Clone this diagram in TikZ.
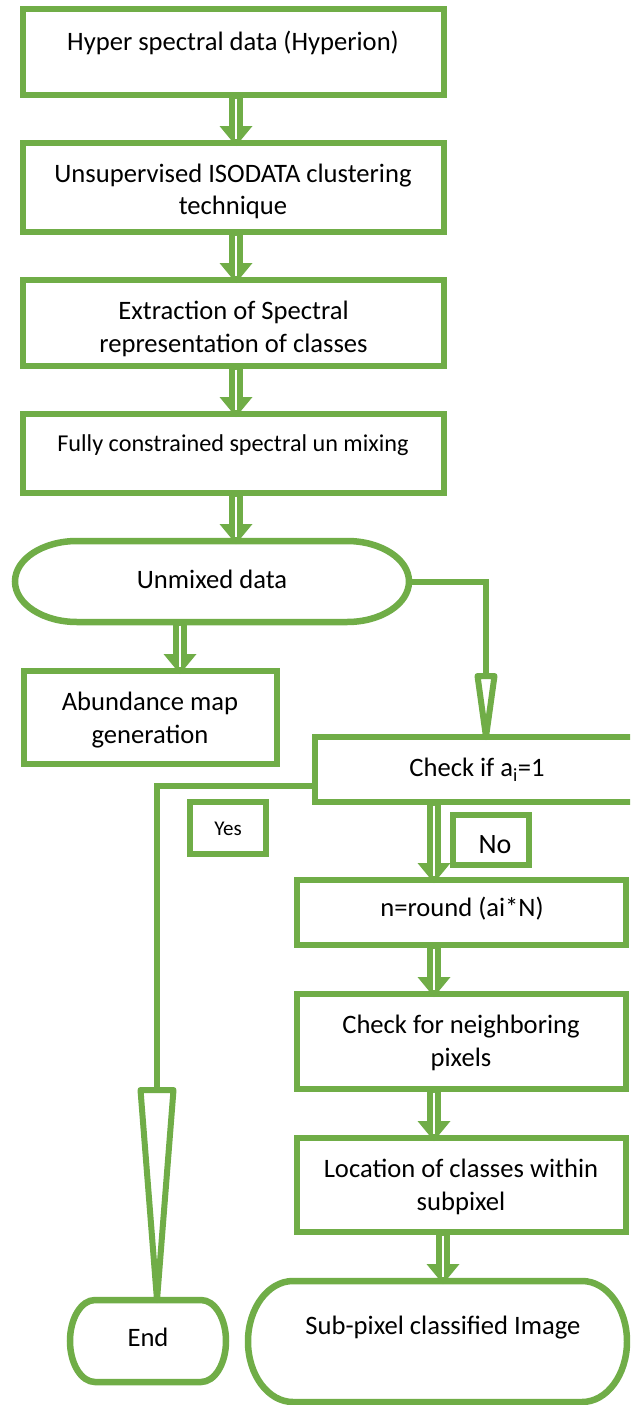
\documentclass[tikz,border=0pt]{standalone}
\usepackage{fontspec}
\setmainfont{Carlito}
\usetikzlibrary{calc}
\definecolor{fgreen}{HTML}{70AD47}

\tikzset{
  ln/.style={draw=fgreen, line width=6pt},
  box/.style={draw=fgreen, line width=6.5pt, rectangle, inner sep=0pt, outer sep=0pt},
  txt/.style={font=\fontsize{26.6}{32.5}\selectfont, align=center, inner sep=0pt, text=black},
  one/.style={text height=18.5pt, text depth=5pt},
  dblbody/.style={fgreen, line width=14pt},
}

% flowchart terminator: name, centre x, centre y, width, height, end radius (px)
\newcommand{\terminator}[6]{%
  \node[inner sep=0pt, outer sep=0pt, minimum width=#4pt, minimum height=#5pt] (#1) at (#2,#3) {};
  \draw[draw=fgreen, line width=6.5pt]
    ([xshift=#6pt]#1.north west) -- ([xshift=-#6pt]#1.north east)
    arc[start angle=90, end angle=-90, x radius=#6pt, y radius=#5pt/2]
    -- ([xshift=#6pt]#1.south west)
    arc[start angle=270, end angle=90, x radius=#6pt, y radius=#5pt/2] -- cycle;
}

% double-line block arrow: start point, target point on the next shape
\newcommand{\dblarrow}[2]{%
  \draw[dblbody] (#1) -- ($(#2)+(0,-16)$);
  \fill[fgreen] ($(#2)+(-16.5,-17)$) -- ($(#2)+(16.5,-17)$) -- ($(#2)+(0,3)$) -- cycle;
  \draw[white, line width=2.2pt] ($(#1)+(0,3.5)$) -- ($(#2)+(0,-4)$);
}

\begin{document}
\begin{tikzpicture}[x=1pt,y=-1pt]
\useasboundingbox (0,0) rectangle (630,1405);
\clip (0,0) rectangle (630,1405);
\fill[white] (0,0) rectangle (630,1405);

% main column
\node[box, minimum width=421pt, minimum height=86pt] (b1) at (233.5,52) {};
\node[box, minimum width=421pt, minimum height=89pt] (b2) at (233.5,187.5) {};
\node[box, minimum width=421pt, minimum height=86pt] (b3) at (233.5,323) {};
\node[box, minimum width=421pt, minimum height=79pt] (b4) at (233.5,453.5) {};
\terminator{unmixed}{212}{581.5}{394}{81}{62}
\node[box, minimum width=253pt, minimum height=93pt] (abund) at (150.5,717.5) {};

% decision branch
\node[box, minimum width=325pt, minimum height=65pt] (check) at (477.5,769.5) {};
\node[box, line width=6pt, minimum width=76pt, minimum height=52pt] (yes) at (228,828) {};
\node[box, line width=5.5pt, minimum width=76pt, minimum height=50pt] (no) at (491,840) {};
\node[box, minimum width=329pt, minimum height=65pt] (nround) at (461.5,912.5) {};
\node[box, minimum width=329pt, minimum height=95pt] (neigh) at (461.5,1041.5) {};
\node[box, minimum width=329pt, minimum height=94pt] (locat) at (461.5,1185) {};
\terminator{subpix}{437.5}{1341.5}{379}{121}{45}
\terminator{endnode}{148}{1341}{156}{82}{25}

% labels
\node[txt, one] (t1) at (233,44) {Hyper spectral data (Hyperion)};
\node[txt] (t2) at (233,191.5) {Unsupervised ISODATA clustering\\technique};
\node[txt] (t3) at (233.5,329) {Extraction of Spectral\\representation of classes};
\node[txt, font=\fontsize{24.2}{29}\selectfont, text height=16.7pt, text depth=4.5pt] (t4) at (233,445) {Fully constrained spectral un mixing};
\node[txt, one] (t5) at (212,582) {Unmixed data};
\node[txt] (t6) at (150,720) {Abundance map\\generation};
\node[txt, one] (t7) at (477,770) {Check if a\textsubscript{i}=1};
\node[txt, font=\fontsize{21}{25}\selectfont, text height=14.5pt, text depth=4pt] (t8) at (228,830) {Yes};
\node[txt, font=\fontsize{28}{34}\selectfont, text height=19.5pt, text depth=5.5pt] (t9) at (495,846) {No};
\node[txt, one] (t10) at (462,910) {n=round (ai*N)};
\node[txt] (t11) at (461,1043) {Check for neighboring\\pixels};
\node[txt] (t12) at (461,1187) {Location of classes within\\subpixel};
\node[txt, one] (t13) at (443,1328) {Sub-pixel classified Image};
\node[txt, one] (t14) at (148,1339.5) {End};

% arrow columns
\coordinate (colL) at (236,0);
\coordinate (colU) at (180,0);
\coordinate (colR) at (434,0);
\coordinate (colS) at (443,0);

\dblarrow{colL |- b1.south}{colL |- b2.north}
\dblarrow{colL |- b2.south}{colL |- b3.north}
\dblarrow{colL |- b3.south}{colL |- b4.north}
\dblarrow{colL |- b4.south}{colL |- unmixed.north}
\dblarrow{colU |- unmixed.south}{colU |- abund.north}
\dblarrow{colR |- check.south}{colR |- nround.north}
\dblarrow{colR |- nround.south}{colR |- neigh.north}
\dblarrow{colR |- neigh.south}{colR |- locat.north}
\dblarrow{colS |- locat.south}{colS |- subpix.north}

% hollow-headed connectors
\coordinate (ubend) at (486,676);
\draw[ln] (unmixed.east) -| (ubend);
\draw[ln, line join=round, fill=white] ($(ubend)+(-8.5,0)$) -- ($(ubend)+(8.5,0)$) -- (ubend |- check.north) -- cycle;

\coordinate (ybend) at (157,1090);
\draw[ln] ($(check.west)+(0,16.5)$) -| (ybend);
\draw[ln, line join=round, fill=white] ($(ybend)+(-16.5,0)$) -- ($(ybend)+(16.5,0)$) -- (ybend |- endnode.north) -- cycle;
\end{tikzpicture}
\end{document}
